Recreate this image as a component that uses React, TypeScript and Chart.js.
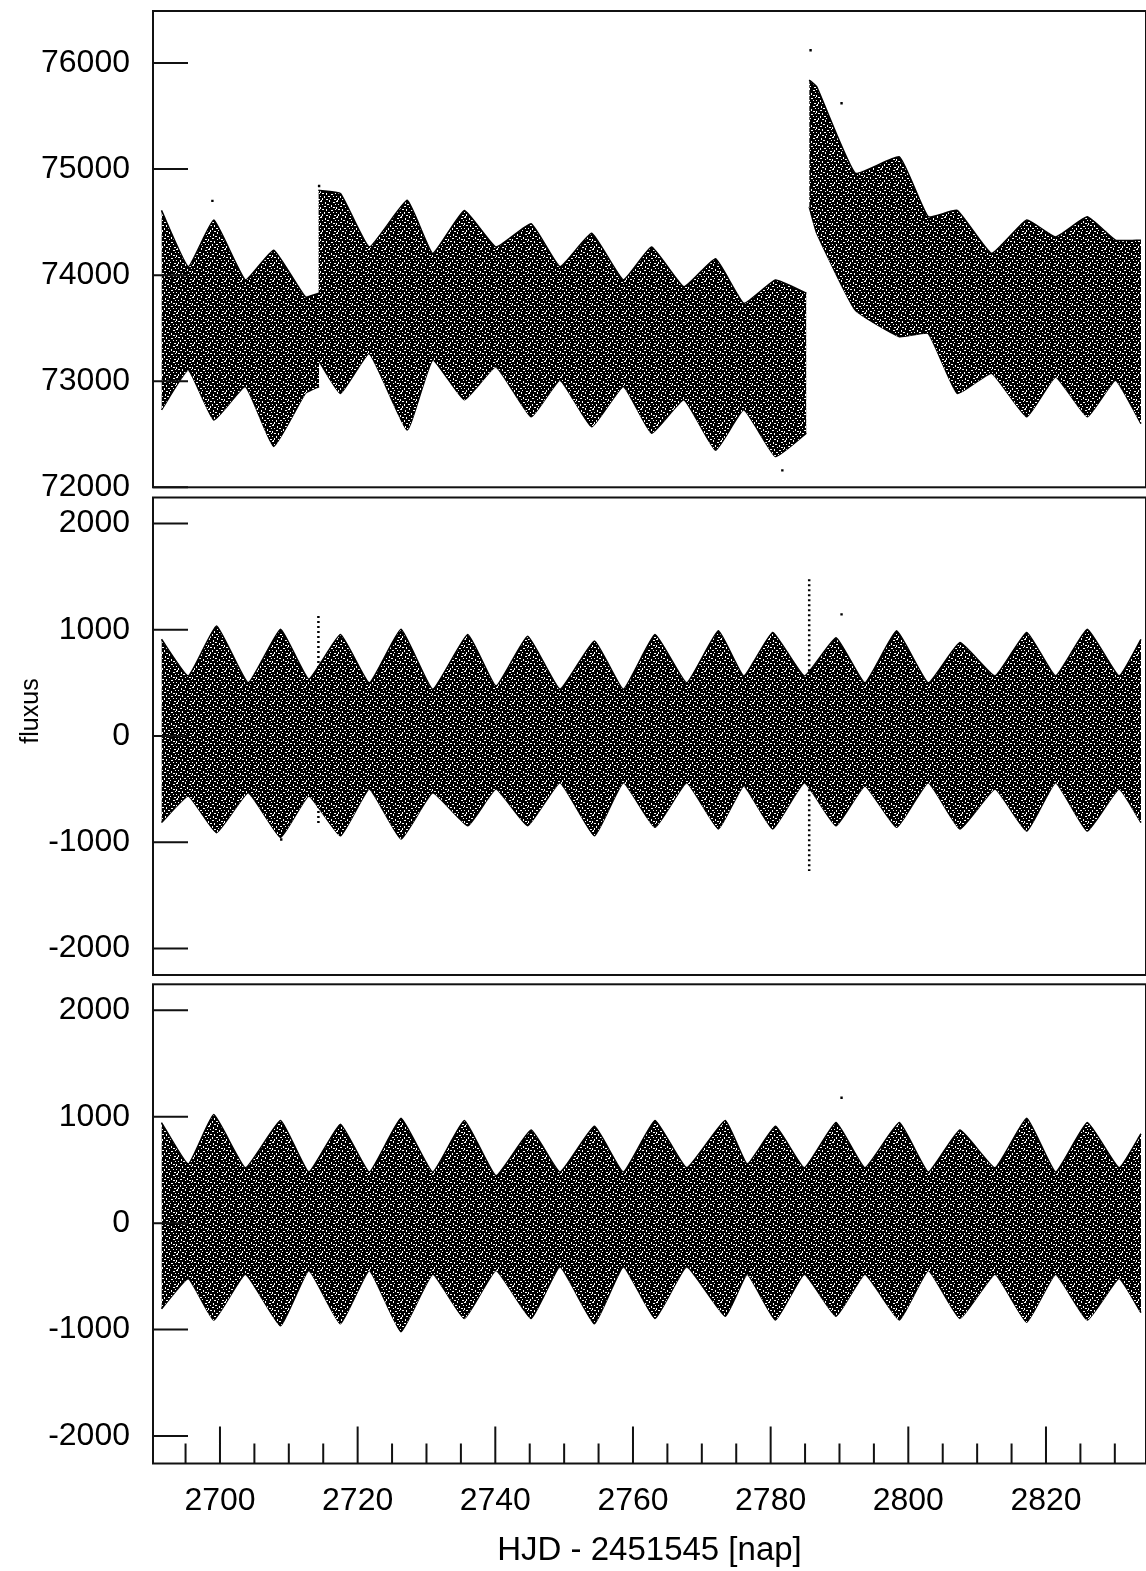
import React, { useEffect, useRef } from "react";
import { Chart, registerables } from "chart.js";

Chart.register(...registerables);

// ---------------- data ----------------
// top panel: raw flux, upper / lower envelope of the dense point cloud
const TOP_DAYS = [2691.5, 2695.4, 2699.1, 2703.7, 2707.8, 2712.4, 2714.4, 2714.3, 2717.5, 2721.7, 2727.2, 2730.9, 2735.5, 2740.1, 2745.2, 2749.4, 2754.0, 2758.6, 2762.7, 2767.4, 2772.0, 2776.1, 2780.7, 2785.2, 2785.6, 2786.7, 2792.3, 2798.7, 2802.9, 2807.1, 2812.1, 2817.2, 2821.4, 2826.0, 2830.1, 2833.8];
const TOP_UPPER = [74610, 74080, 74520, 73955, 74235, 73795, 73830, 74800, 74770, 74265, 74705, 74205, 74610, 74265, 74485, 74080, 74395, 73955, 74265, 73890, 74155, 73735, 73955, 73830, 75840, 75775, 74960, 75115, 74550, 74610, 74205, 74520, 74360, 74550, 74330, 74330];
const TOP_LOWER = [72730, 73105, 72635, 72950, 72385, 72885, 72950, 73200, 72885, 73260, 72540, 73200, 72825, 73135, 72665, 73010, 72570, 72950, 72510, 72825, 72350, 72730, 72290, 72510, 74645, 74395, 73670, 73420, 73450, 72885, 73075, 72665, 73040, 72665, 73010, 72600];
const TOP_OUT_X = [2785.8, 2790.3, 2781.7, 2714.4, 2698.9];
const TOP_OUT_Y = [76120, 75620, 72160, 74840, 74700];

// middle panel: detrended flux
const MID_DAYS = [2691.5, 2695.4, 2699.5, 2704.1, 2708.8, 2712.9, 2717.5, 2721.7, 2726.3, 2730.9, 2736.0, 2740.1, 2744.7, 2749.4, 2754.4, 2758.6, 2763.2, 2767.8, 2772.4, 2776.1, 2780.3, 2784.9, 2789.5, 2793.7, 2798.3, 2802.9, 2807.5, 2812.6, 2817.2, 2821.4, 2826.0, 2830.6, 2833.8];
const MID_UPPER = [910, 565, 1035, 500, 1005, 535, 955, 500, 1005, 440, 955, 470, 940, 440, 895, 440, 955, 500, 990, 565, 975, 565, 925, 500, 990, 500, 880, 565, 975, 565, 1005, 565, 910];
const MID_LOWER = [-815, -565, -910, -535, -955, -565, -940, -500, -970, -535, -845, -500, -845, -440, -940, -440, -860, -440, -875, -470, -875, -440, -845, -470, -860, -440, -875, -500, -895, -440, -895, -500, -815];
const MID_SPIKE_X = [2714.3, 2785.6];
const MID_SPIKE_HI = [1130, 1475];
const MID_SPIKE_LO = [-830, -1270];
const MID_OUT_X = [2790.3, 2708.9];
const MID_OUT_Y = [1145, -975];

// bottom panel: corrected flux
const BOT_DAYS = [2691.5, 2695.4, 2699.1, 2703.7, 2708.8, 2712.9, 2717.5, 2721.7, 2726.3, 2730.9, 2735.5, 2740.1, 2745.2, 2749.4, 2754.4, 2758.6, 2763.2, 2767.8, 2773.4, 2776.6, 2780.7, 2784.9, 2789.5, 2793.7, 2798.7, 2802.9, 2807.5, 2812.6, 2817.2, 2821.4, 2826.0, 2830.6, 2833.8];
const BOT_UPPER = [945, 555, 1020, 520, 965, 480, 930, 480, 985, 480, 965, 445, 875, 480, 910, 480, 965, 520, 965, 555, 910, 520, 945, 520, 945, 480, 875, 520, 985, 480, 945, 520, 840];
const BOT_LOWER = [-805, -520, -910, -480, -965, -445, -945, -445, -1020, -480, -895, -445, -895, -410, -945, -410, -895, -410, -875, -480, -910, -480, -875, -480, -910, -445, -895, -480, -930, -480, -910, -520, -840];
const BOT_OUT_X = [2790.3];
const BOT_OUT_Y = [1178];

// ticks and labels
const TOP_TICKS = [72000, 73000, 74000, 75000, 76000];
const RESID_TICKS = [-2000, -1000, 0, 1000, 2000];
const X_MAJOR_TICKS = [2700, 2720, 2740, 2760, 2780, 2800, 2820];
const X_MINOR_TICKS = [2695, 2705, 2710, 2715, 2725, 2730, 2735, 2745, 2750, 2755, 2765, 2770, 2775, 2785, 2790, 2795, 2805, 2810, 2815, 2825, 2830];
const X_TITLE = "HJD - 2451545 [nap]";
const Y_TITLE = "fluxus";

// ---------------- layout / style ----------------
const X_MIN = 2690.27;
const X_MAX = 2834.53;
const FONT = '"Liberation Sans", Arial, sans-serif';
const INK = "#000";
const TILE = 16;
const TENSION = 0.12;
// white gaps between the plotted points: [x, y, w, h] inside a 16x16 tile
const SPECKS: [number, number, number, number][] = [
  [0, 0, 2, 1], [5, 1, 1, 2], [9, 0, 1, 1], [13, 1, 2, 1],
  [2, 3, 1, 1], [7, 3, 2, 1], [11, 4, 1, 2], [15, 3, 1, 1],
  [0, 6, 1, 2], [4, 5, 2, 1], [9, 6, 1, 1], [13, 6, 2, 1],
  [2, 8, 2, 1], [6, 8, 1, 2], [11, 9, 2, 1], [15, 8, 1, 1],
  [0, 11, 1, 1], [4, 11, 1, 2], [8, 11, 2, 1], [13, 11, 1, 1],
  [2, 13, 1, 2], [6, 14, 2, 1], [10, 13, 1, 1], [14, 14, 2, 1],
  [1, 15, 1, 1], [9, 15, 1, 1],
];

function makePattern(): CanvasPattern | string {
  const tile = document.createElement("canvas");
  tile.width = TILE;
  tile.height = TILE;
  const t = tile.getContext("2d");
  if (!t) return INK;
  t.fillStyle = INK;
  t.fillRect(0, 0, TILE, TILE);
  t.fillStyle = "#fff";
  SPECKS.forEach(([x, y, w, h]) => t.fillRect(x, y, w, h));
  const c = document.createElement("canvas").getContext("2d");
  const p = c ? c.createPattern(tile, "repeat") : null;
  return p || INK;
}

type Spec = {
  top: number;
  height: number;
  padTop: number;
  padBottom: number;
  yMin: number;
  yMax: number;
  yTicks: number[];
  days: number[];
  upper: number[];
  lower: number[];
  spikeX: number[];
  spikeHi: number[];
  spikeLo: number[];
  outX: number[];
  outY: number[];
  showX: boolean;
  yTitleAt?: [number, number];
};

// split the envelope where the light curve jumps (two samples closer than 0.7 d)
function segmentsOf(days: number[]): [number, number][] {
  const segs: [number, number][] = [];
  let start = 0;
  for (let i = 1; i < days.length; i++) {
    if (days[i] - days[i - 1] < 0.7) {
      segs.push([start, i]);
      start = i;
    }
  }
  segs.push([start, days.length]);
  return segs;
}

function buildConfig(spec: Spec, pattern: any): any {
  const datasets: any[] = [];
  segmentsOf(spec.days).forEach(([a, b]) => {
    const idx = spec.days.slice(a, b).map((_, k) => a + k);
    datasets.push(
      {
        data: idx.map((i) => ({ x: spec.days[i], y: spec.upper[i] })),
        borderColor: INK,
        borderWidth: 1.5,
        pointRadius: 0,
        fill: "+1",
        backgroundColor: pattern,
        tension: TENSION,
      },
      {
        data: idx.map((i) => ({ x: spec.days[i], y: spec.lower[i] })),
        borderColor: INK,
        borderWidth: 1.5,
        pointRadius: 0,
        fill: false,
        tension: TENSION,
      }
    );
  });
  spec.spikeX.forEach((x, i) => {
    datasets.push({
      data: [
        { x, y: spec.spikeHi[i] },
        { x, y: spec.spikeLo[i] },
      ],
      borderColor: INK,
      borderWidth: 2.5,
      borderDash: [2, 3],
      pointRadius: 0,
      fill: false,
    });
  });
  datasets.push({
    type: "scatter",
    data: spec.outX.map((x, i) => ({ x, y: spec.outY[i] })),
    pointStyle: "rect",
    pointRadius: 1.7,
    backgroundColor: INK,
    borderWidth: 0,
    showLine: false,
  });

  const framePlugin = {
    id: "frameTicks",
    afterDatasetsDraw(chart: any) {
      const { ctx, chartArea: a, scales } = chart;
      ctx.save();
      ctx.strokeStyle = "#111";
      ctx.lineWidth = 2;
      ctx.strokeRect(a.left, a.top, a.right - a.left, a.bottom - a.top);
      ctx.beginPath();
      spec.yTicks.forEach((v) => {
        const y = scales.y.getPixelForValue(v);
        ctx.moveTo(a.left, y);
        ctx.lineTo(a.left + 35, y);
      });
      if (spec.showX) {
        X_MAJOR_TICKS.forEach((v) => {
          const x = scales.x.getPixelForValue(v);
          ctx.moveTo(x, a.bottom);
          ctx.lineTo(x, a.bottom - 37);
        });
        X_MINOR_TICKS.forEach((v) => {
          const x = scales.x.getPixelForValue(v);
          ctx.moveTo(x, a.bottom);
          ctx.lineTo(x, a.bottom - 20);
        });
      }
      ctx.stroke();
      if (spec.yTitleAt) {
        ctx.translate(spec.yTitleAt[0], spec.yTitleAt[1]);
        ctx.rotate(-Math.PI / 2);
        ctx.textAlign = "center";
        ctx.textBaseline = "middle";
        ctx.fillStyle = INK;
        ctx.font = `25px ${FONT}`;
        ctx.fillText(Y_TITLE, 0, 0);
      }
      ctx.restore();
    },
  };

  const xScale: any = {
    type: "linear",
    min: X_MIN,
    max: X_MAX,
    display: spec.showX,
    grid: { display: false, drawTicks: false },
    border: { display: false },
    afterBuildTicks: (s: any) => {
      s.ticks = X_MAJOR_TICKS.map((v) => ({ value: v }));
    },
    ticks: {
      padding: 18,
      autoSkip: false,
      maxRotation: 0,
      minRotation: 0,
      color: INK,
      font: { size: 32, family: FONT },
      callback: (v: any) => String(v),
    },
    title: {
      display: spec.showX,
      text: X_TITLE,
      color: INK,
      font: { size: 33, family: FONT },
      padding: { top: 0, bottom: 0 },
    },
  };
  if (spec.showX) {
    xScale.afterFit = (s: any) => {
      s.height = 107.5;
    };
  }

  return {
    type: "line",
    data: { datasets },
    options: {
      animation: false,
      responsive: false,
      maintainAspectRatio: false,
      events: [],
      layout: { autoPadding: false, padding: { top: spec.padTop, bottom: spec.padBottom, left: 0, right: 0 } },
      plugins: { legend: { display: false }, tooltip: { enabled: false }, title: { display: false } },
      scales: {
        x: xScale,
        y: {
          type: "linear",
          min: spec.yMin,
          max: spec.yMax,
          grid: { display: false, drawTicks: false },
          border: { display: false },
          afterBuildTicks: (s: any) => {
            s.ticks = spec.yTicks.map((v) => ({ value: v }));
          },
          afterFit: (s: any) => {
            s.width = 153;
          },
          ticks: {
            padding: 23,
            autoSkip: false,
            color: INK,
            font: { size: 32, family: FONT },
            callback: (v: any) => String(v),
          },
        },
      },
    },
    plugins: [framePlugin],
  };
}

const SPECS: Spec[] = [
  {
    top: -39, height: 577, padTop: 50, padBottom: 50.7,
    yMin: 72000, yMax: 76490, yTicks: TOP_TICKS,
    days: TOP_DAYS, upper: TOP_UPPER, lower: TOP_LOWER,
    spikeX: [], spikeHi: [], spikeLo: [],
    outX: TOP_OUT_X, outY: TOP_OUT_Y, showX: false,
  },
  {
    top: 447, height: 578, padTop: 50.5, padBottom: 50,
    yMin: -2250, yMax: 2245, yTicks: RESID_TICKS,
    days: MID_DAYS, upper: MID_UPPER, lower: MID_LOWER,
    spikeX: MID_SPIKE_X, spikeHi: MID_SPIKE_HI, spikeLo: MID_SPIKE_LO,
    outX: MID_OUT_X, outY: MID_OUT_Y, showX: false,
    yTitleAt: [31, 264],
  },
  {
    top: 934, height: 637, padTop: 50.3, padBottom: 0,
    yMin: -2258, yMax: 2244, yTicks: RESID_TICKS,
    days: BOT_DAYS, upper: BOT_UPPER, lower: BOT_LOWER,
    spikeX: [], spikeHi: [], spikeLo: [],
    outX: BOT_OUT_X, outY: BOT_OUT_Y, showX: true,
  },
];

function Panel({ spec }: { spec: Spec }) {
  const ref = useRef<HTMLCanvasElement | null>(null);
  useEffect(() => {
    if (!ref.current) return;
    const chart = new Chart(ref.current, buildConfig(spec, makePattern()));
    return () => chart.destroy();
  }, [spec]);
  return (
    <canvas
      ref={ref}
      width={1146}
      height={spec.height}
      style={{ position: "absolute", left: 0, top: spec.top, width: 1146, height: spec.height }}
    />
  );
}

export default function App() {
  return (
    <div
      style={{
        position: "absolute",
        left: 0,
        top: 0,
        width: 1146,
        height: 1571,
        overflow: "hidden",
        background: "#fff",
      }}
    >
      {SPECS.map((s, i) => (
        <Panel key={i} spec={s} />
      ))}
    </div>
  );
}
